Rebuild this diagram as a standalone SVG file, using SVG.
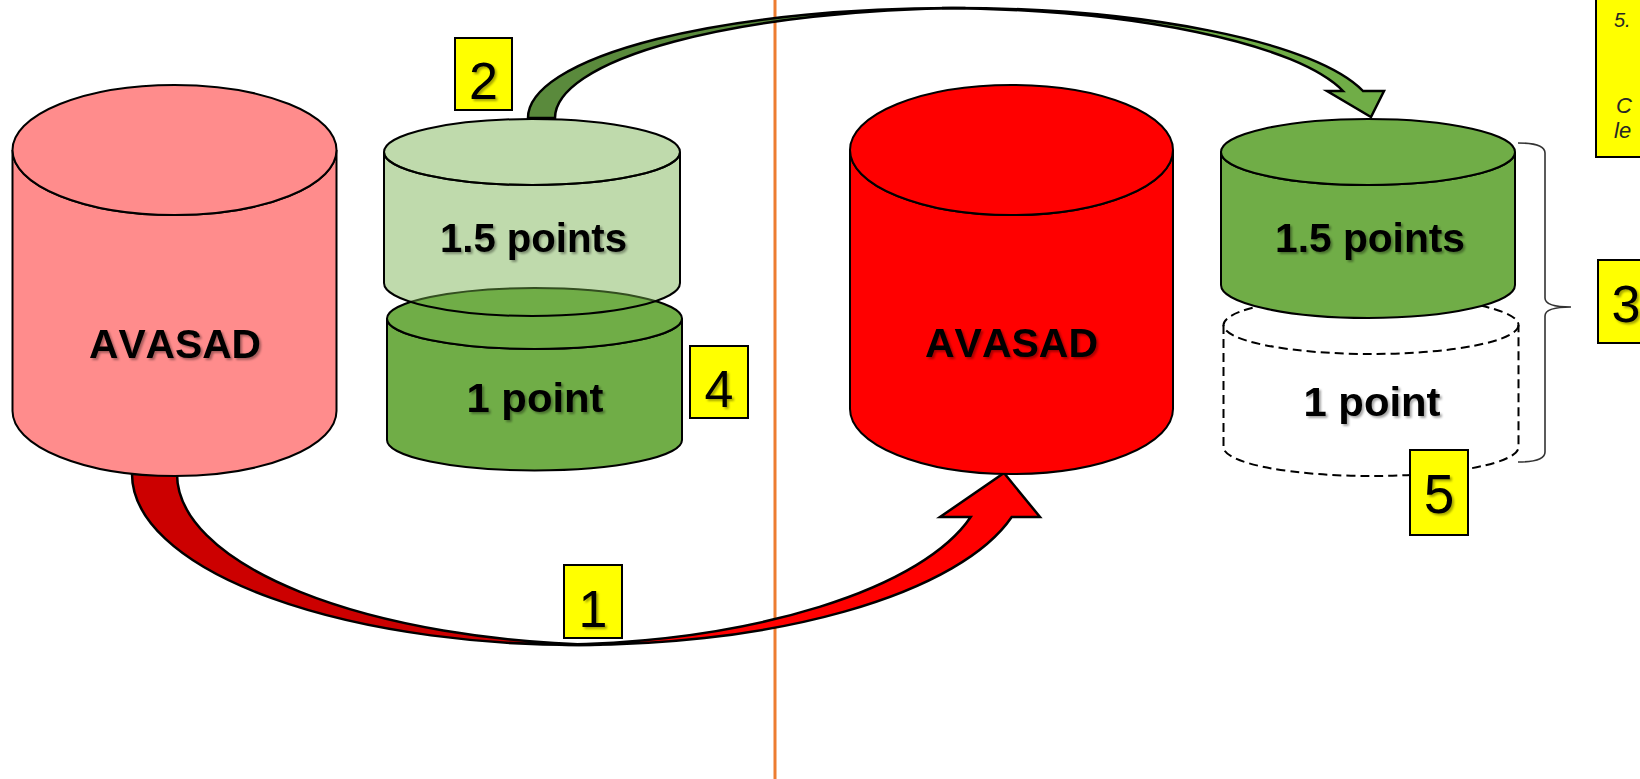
<svg xmlns="http://www.w3.org/2000/svg" width="1640" height="779" viewBox="0 0 1640 779">
  <defs>
    <filter id="sh" x="-10%" y="-20%" width="130%" height="150%">
      <feDropShadow dx="2" dy="2" stdDeviation="1.2" flood-color="#000" flood-opacity="0.35"/>
    </filter>
    <style>
      .cyl { stroke: #000; stroke-width: 2; }
      .dash { fill: none; stroke: #000; stroke-width: 2; stroke-dasharray: 9 5; }
      .lbl { font-family: "Liberation Sans", Arial, sans-serif; font-weight: bold; font-size: 41px; fill: #000; text-anchor: middle; filter: url(#sh); font-kerning: none; }
      .box { fill: #FFFF00; stroke: #000; stroke-width: 2; }
      .num { font-family: "Liberation Sans", Arial, sans-serif; font-size: 52px; fill: #000; text-anchor: middle; filter: url(#sh); }
      .arr { stroke: #000; stroke-width: 2.5; stroke-linejoin: miter; }
      .note { font-family: "Liberation Sans", Arial, sans-serif; font-style: italic; fill: #262626; }
    </style>
  </defs>
  <rect width="1640" height="779" fill="#fff"/>

  <!-- orange divider -->
  <line x1="775" y1="0" x2="775" y2="779" stroke="#ED7D31" stroke-width="3"/>

  <!-- connectors -->
  <g id="connectors">
    <!-- 1: red curved up arrow -->
    <path class="arr" fill="#CC0000" d="M132,474 L177,474 A447,171 0 0 0 601.5,644.8 A447,171 0 0 1 132,474 Z"/>
    <path class="arr" fill="#FF0000" d="M558.5,644.8 A447,171 0 0 0 1011.7,517 L1040,517 L1004,473 L940,517 L970.7,517 A447,171 0 0 1 558.5,644.8 Z"/>
    <!-- 2: green curved down arrow -->
    <path class="arr" fill="#5A8A3C" d="M528,118 L555,118 A424,110 0 0 1 965.5,8.1 A424,110 0 0 0 528,118 Z"/>
    <path class="arr" fill="#70AD47" d="M942,8 A424,110 0 0 1 1363,91 L1384,91 L1371,117 L1327,91 L1343,91 A424,110 0 0 0 942,8 Z"/>
  </g>

  <!-- left: AVASAD (light red) -->
  <g id="avasad-left">
    <path class="cyl" fill="#FF8C8C" d="M12.5,150 L12.5,411 A162,65 0 0 0 336.5,411 L336.5,150 A162,65 0 0 1 12.5,150 Z"/>
    <ellipse class="cyl" fill="#FF8C8C" cx="174.5" cy="150" rx="162" ry="65"/>
    <text class="lbl" x="175" y="358" textLength="172" lengthAdjust="spacingAndGlyphs">AVASAD</text>
  </g>

  <!-- left: 1 point (dark green) -->
  <g id="one-point-left">
    <path class="cyl" fill="#70AD47" d="M387,318.5 L387,440 A147.5,30.5 0 0 0 682,440 L682,318.5 A147.5,30.5 0 0 1 387,318.5 Z"/>
    <ellipse class="cyl" fill="#70AD47" cx="534.5" cy="318.5" rx="147.5" ry="30.5"/>
    <text class="lbl" x="535" y="412" textLength="137" lengthAdjust="spacingAndGlyphs">1 point</text>
  </g>

  <!-- left: 1.5 points (translucent green) -->
  <g id="one-five-left">
    <path class="cyl" fill="#70AD47" fill-opacity="0.45" d="M384,152 L384,283 A148,33 0 0 0 680,283 L680,152 A148,33 0 0 1 384,152 Z"/>
    <ellipse class="cyl" fill="#70AD47" fill-opacity="0.45" cx="532" cy="152" rx="148" ry="33"/>
    <text class="lbl" x="533.5" y="252" textLength="187" lengthAdjust="spacingAndGlyphs">1.5 points</text>
  </g>

  <!-- right: AVASAD (red) -->
  <g id="avasad-right">
    <path class="cyl" fill="#FF0000" d="M850,150 L850,409 A161.5,65 0 0 0 1173,409 L1173,150 A161.5,65 0 0 1 850,150 Z"/>
    <ellipse class="cyl" fill="#FF0000" cx="1011.5" cy="150" rx="161.5" ry="65"/>
    <text class="lbl" x="1011.5" y="357" textLength="173" lengthAdjust="spacingAndGlyphs">AVASAD</text>
  </g>

  <!-- right: 1 point (dashed, empty) -->
  <g id="one-point-right">
    <path class="dash" d="M1223.5,325 L1223.5,447 A147.5,29 0 0 0 1518.5,447 L1518.5,325"/>
    <ellipse class="dash" cx="1371" cy="325" rx="147.5" ry="29"/>
    <text class="lbl" x="1372" y="416" textLength="137" lengthAdjust="spacingAndGlyphs">1 point</text>
  </g>

  <!-- right: 1.5 points (green) -->
  <g id="one-five-right">
    <path class="cyl" fill="#70AD47" d="M1221,152 L1221,285 A147,33 0 0 0 1515,285 L1515,152 A147,33 0 0 1 1221,152 Z"/>
    <ellipse class="cyl" fill="#70AD47" cx="1368" cy="152" rx="147" ry="33"/>
    <text class="lbl" x="1370" y="252" textLength="190" lengthAdjust="spacingAndGlyphs">1.5 points</text>
  </g>

  <!-- brace -->
  <g id="brace">
    <path d="M1518,143 Q1545,143 1545,153 L1545,298 Q1545,307 1571,307 Q1545,307 1545,316 L1545,452 Q1545,462 1518,462" fill="none" stroke="#333" stroke-width="1.6"/>
  </g>

  <!-- numbered labels -->
  <g id="label-1">
    <rect class="box" x="564" y="565" width="58" height="73"/>
    <text class="num" x="593" y="627">1</text>
  </g>
  <g id="label-2">
    <rect class="box" x="455" y="38" width="57" height="72"/>
    <text class="num" x="483.5" y="99">2</text>
  </g>
  <g id="label-3">
    <rect class="box" x="1598" y="260" width="60" height="83"/>
    <text class="num" x="1626" y="322">3</text>
  </g>
  <g id="label-4">
    <rect class="box" x="690" y="346" width="58" height="72"/>
    <text class="num" x="719" y="407">4</text>
  </g>
  <g id="label-5">
    <rect class="box" x="1410" y="450" width="58" height="85"/>
    <text class="num" x="1439" y="513" style="font-size:55px">5</text>
  </g>

  <!-- note box (top right, cut off) -->
  <g id="note">
    <rect class="box" x="1596" y="-5" width="60" height="162"/>
    <text class="note" x="1614" y="27" font-size="20">5.</text>
    <text class="note" x="1616" y="113" font-size="22">C</text>
    <text class="note" x="1614" y="138" font-size="22">le</text>
  </g>
</svg>
